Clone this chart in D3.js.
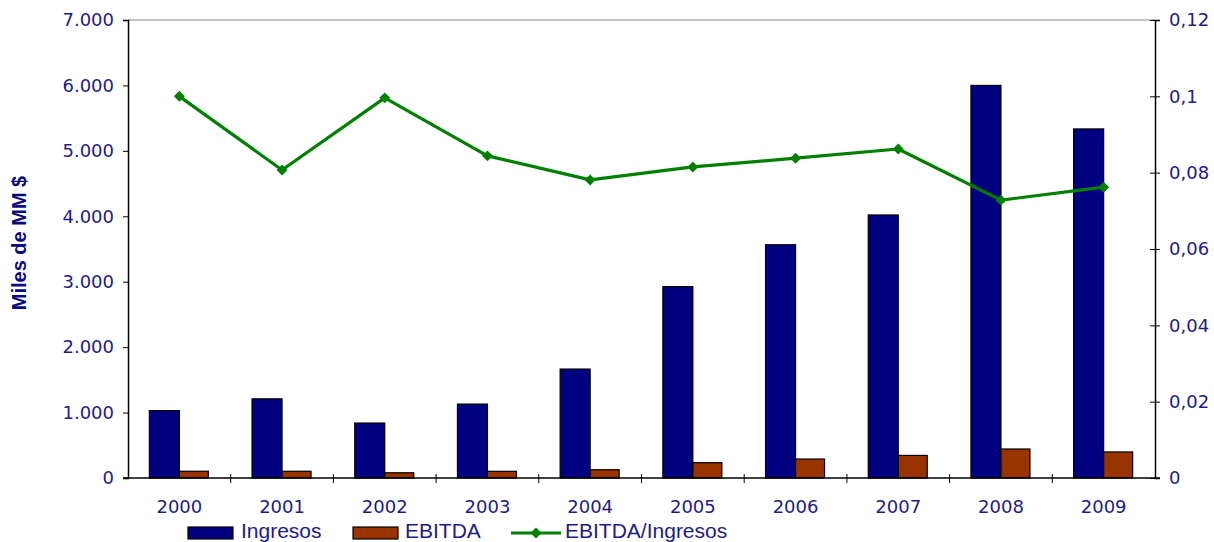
<!DOCTYPE html>
<html>
<head>
<meta charset="utf-8">
<script src="https://cdn.jsdelivr.net/npm/d3@7"></script>
<style>
  html, body { margin: 0; padding: 0; background: #fff; }
  svg { display: block; }
</style>
</head>
<body>
<svg id="chart" width="1214" height="542"></svg>
<script>
const years = ["2000","2001","2002","2003","2004","2005","2006","2007","2008","2009"];
const ingresos = [1030, 1210, 840, 1130, 1665, 2925, 3565, 4020, 6000, 5335];
const ebitda = [103, 103, 80, 102, 127, 234, 290, 345, 443, 398];
const ratio = [0.1000, 0.0807, 0.0996, 0.0844, 0.0781, 0.0815, 0.0838, 0.0862, 0.0728, 0.0762];
const leftTicks = [0, 1000, 2000, 3000, 4000, 5000, 6000, 7000];
const rightTicks = [0, 0.02, 0.04, 0.06, 0.08, 0.1, 0.12];
const seriesNames = ["Ingresos", "EBITDA", "EBITDA/Ingresos"];

const svg = d3.select("#chart");
const pL = 128, pR = 1155, pT = 20, pB = 478;
const textColor = "#1c1c8a";

const x = d3.scaleBand().domain(years).range([pL, pR]).paddingInner(0).paddingOuter(0);
const yL = d3.scaleLinear().domain([0, 7000]).range([pB, pT]);
const yR = d3.scaleLinear().domain([0, 0.12]).range([pB, pT]);
const barW = 30;

const fmtL = v => d3.format(",")(v).replace(/,/g, ".");
const fmtR = v => v === 0 ? "0" : String(+v.toFixed(2)).replace(".", ",");

// top frame line
svg.append("line").attr("x1", pL).attr("x2", pR).attr("y1", pT).attr("y2", pT)
  .attr("stroke", "#888").attr("stroke-width", 1);

// bars
const g = svg.append("g");
g.selectAll("rect.ing").data(years).enter().append("rect")
  .attr("x", d => x(d) + x.bandwidth()/2 - barW)
  .attr("y", (d,i) => yL(ingresos[i]))
  .attr("width", barW)
  .attr("height", (d,i) => pB - yL(ingresos[i]))
  .attr("fill", "#000080").attr("stroke", "#000").attr("stroke-width", 1.2);
g.selectAll("rect.eb").data(years).enter().append("rect")
  .attr("x", d => x(d) + x.bandwidth()/2)
  .attr("y", (d,i) => yL(ebitda[i]))
  .attr("width", barW - 1)
  .attr("height", (d,i) => pB - yL(ebitda[i]))
  .attr("fill", "#993300").attr("stroke", "#000").attr("stroke-width", 1.2);

// left axis
const axL = svg.append("g").attr("transform", `translate(${pL},0)`)
  .call(d3.axisLeft(yL).tickValues(leftTicks).tickFormat(fmtL).tickSize(5).tickPadding(9));
axL.select(".domain").attr("stroke", "#000").attr("stroke-width", 1.5);
axL.selectAll(".tick line").attr("stroke", "#000").attr("stroke-width", 1);
axL.selectAll("text").attr("fill", textColor).attr("font-family", "DejaVu Sans, Verdana, sans-serif").attr("font-size", 18);

// right axis
const axR = svg.append("g").attr("transform", `translate(${pR},0)`)
  .call(d3.axisRight(yR).tickValues(rightTicks).tickFormat(fmtR).tickSize(5).tickPadding(9));
axR.select(".domain").attr("stroke", "#000").attr("stroke-width", 1.5);
axR.selectAll(".tick line").attr("stroke", "#000").attr("stroke-width", 1).attr("x1", -5);
axR.selectAll("text").attr("fill", textColor).attr("font-family", "DejaVu Sans, Verdana, sans-serif").attr("font-size", 18);

// bottom axis
svg.append("line").attr("x1", pL - 5).attr("x2", pR + 5).attr("y1", pB).attr("y2", pB)
  .attr("stroke", "#000").attr("stroke-width", 1.5);
const bounds = years.map(d => x(d)).concat([pR]);
svg.append("g").selectAll("line").data(bounds.slice(1, -1)).enter().append("line")
  .attr("x1", d => d).attr("x2", d => d).attr("y1", pB - 4).attr("y2", pB + 5)
  .attr("stroke", "#000").attr("stroke-width", 1);
svg.append("g").selectAll("text").data(years).enter().append("text")
  .attr("x", d => x(d) + x.bandwidth()/2)
  .attr("y", 513)
  .attr("text-anchor", "middle")
  .attr("fill", textColor).attr("font-family", "DejaVu Sans, Verdana, sans-serif").attr("font-size", 18)
  .text(d => d);

// line series
const line = d3.line().x((d,i) => x(years[i]) + x.bandwidth()/2).y(d => yR(d));
svg.append("path").datum(ratio).attr("d", line)
  .attr("fill", "none").attr("stroke", "#008000").attr("stroke-width", 3.2).attr("stroke-linejoin", "round");
const diamond = d3.symbol().type(d3.symbolSquare).size(60);
svg.append("g").selectAll("path").data(ratio).enter().append("path")
  .attr("d", diamond)
  .attr("transform", (d,i) => `translate(${x(years[i]) + x.bandwidth()/2},${yR(d)}) rotate(45)`)
  .attr("fill", "#008000");

// y title
svg.append("text")
  .attr("transform", "translate(26,243) rotate(-90)")
  .attr("text-anchor", "middle")
  .attr("fill", "#0a0a80").attr("font-family", "Liberation Sans, Arial, sans-serif")
  .attr("font-weight", "bold").attr("font-size", 20)
  .text("Miles de MM $");

// legend
const leg = svg.append("g");
leg.append("rect").attr("x", 188).attr("y", 527).attr("width", 45).attr("height", 12)
  .attr("fill", "#000080").attr("stroke", "#000").attr("stroke-width", 1.2);
leg.append("text").attr("x", 241).attr("y", 538).text(seriesNames[0]);
leg.append("rect").attr("x", 353).attr("y", 527).attr("width", 45).attr("height", 12)
  .attr("fill", "#993300").attr("stroke", "#000").attr("stroke-width", 1.2);
leg.append("text").attr("x", 405).attr("y", 538).text(seriesNames[1]);
leg.append("line").attr("x1", 511).attr("x2", 561).attr("y1", 533).attr("y2", 533)
  .attr("stroke", "#008000").attr("stroke-width", 3.2);
leg.append("path").attr("d", diamond).attr("transform", "translate(536,533) rotate(45)").attr("fill", "#008000");
leg.append("text").attr("x", 565).attr("y", 538).text(seriesNames[2]);
leg.selectAll("text").attr("fill", textColor).attr("font-family", "Liberation Sans, Arial, sans-serif").attr("font-size", 21);
</script>
</body>
</html>
